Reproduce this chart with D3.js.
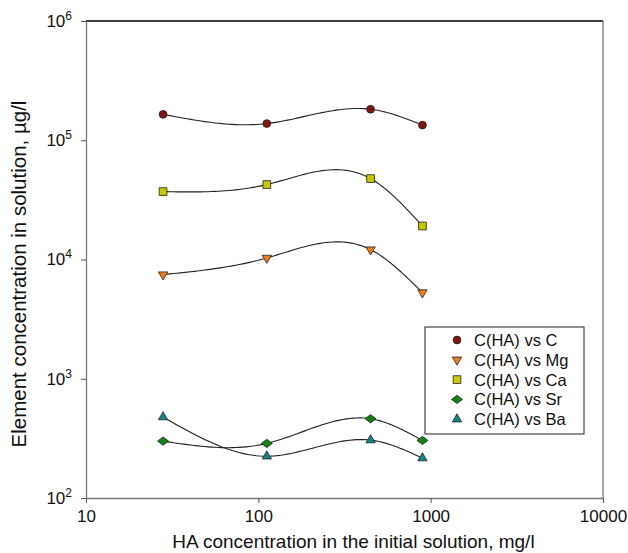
<!DOCTYPE html>
<html>
<head>
<meta charset="utf-8">
<script src="https://cdn.jsdelivr.net/npm/d3@7"></script>
<style>
  body { margin: 0; background: #fff; }
  text { font-family: 'Liberation Sans', Arial, sans-serif; }
</style>
</head>
<body>
<div id="chart"></div>
<script>
// HA concentration (x) and element concentrations (y)
const haConc = [28, 112, 448, 896]
const carbon = [165000, 138000, 182000, 134000]
const magnesium = [7470, 10300, 12100, 5280]
const calcium = [37100, 42500, 47700, 19100]
const strontium = [300, 287, 462, 304]
const barium = [477, 224, 306, 216]

const seriesNames = ['C(HA) vs C', 'C(HA) vs Mg', 'C(HA) vs Ca', 'C(HA) vs Sr', 'C(HA) vs Ba']
const xTicks = [10, 100, 1000, 10000]
const yExponents = [2, 3, 4, 5, 6]

const margin = { top: 21, left: 86, right: 25, bottom: 55 }
const width = 628 - margin.left - margin.right
const height = 553 - margin.top - margin.bottom

const svg = d3
  .select('#chart')
  .append('svg')
  .attr('width', 628)
  .attr('height', 553)
  .append('g')
  .attr('transform', 'translate(' + margin.left + ',' + margin.top + ')')

const xPositionScale = d3.scaleLog().domain([10, 10000]).range([0, width])
const yPositionScale = d3.scaleLog().domain([100, 1e6]).range([height, 0])

// natural cubic spline y(x) as a d3 curve (like the plotting program's spline)
function curveSplineX(context) {
  let xs = []
  let ys = []
  return {
    areaStart() {},
    areaEnd() {},
    lineStart() { xs = []; ys = [] },
    point(x, y) { xs.push(+x); ys.push(+y) },
    lineEnd() {
      const n = xs.length
      if (n === 0) return
      const h = d3.range(n - 1).map(i => xs[i + 1] - xs[i])
      // solve for second derivatives, natural ends
      const m = new Array(n).fill(0)
      if (n > 2) {
        const a = [], b = [], c = [], r = []
        for (let i = 1; i < n - 1; i++) {
          a.push(h[i - 1])
          b.push(2 * (h[i - 1] + h[i]))
          c.push(h[i])
          r.push(6 * ((ys[i + 1] - ys[i]) / h[i] - (ys[i] - ys[i - 1]) / h[i - 1]))
        }
        const k = b.length
        for (let i = 1; i < k; i++) {
          const w = a[i] / b[i - 1]
          b[i] -= w * c[i - 1]
          r[i] -= w * r[i - 1]
        }
        const sol = new Array(k)
        sol[k - 1] = r[k - 1] / b[k - 1]
        for (let i = k - 2; i >= 0; i--) sol[i] = (r[i] - c[i] * sol[i + 1]) / b[i]
        for (let i = 0; i < k; i++) m[i + 1] = sol[i]
      }
      context.moveTo(xs[0], ys[0])
      for (let i = 0; i < n - 1; i++) {
        const steps = 30
        for (let s = 1; s <= steps; s++) {
          const t = s / steps
          const x = xs[i] + t * h[i]
          const A = 1 - t
          const B = t
          const y = A * ys[i] + B * ys[i + 1] +
            ((A * A * A - A) * m[i] + (B * B * B - B) * m[i + 1]) * h[i] * h[i] / 6
          context.lineTo(x, y)
        }
      }
    }
  }
}

// diamond that is wider than it is tall
const wideDiamond = {
  draw(context, size) {
    const w = Math.sqrt(size) * 0.78
    const h = w * 0.75
    context.moveTo(-w, 0)
    context.lineTo(0, -h)
    context.lineTo(w, 0)
    context.lineTo(0, h)
    context.closePath()
  }
}

const series = [
  { name: seriesNames[0], values: carbon, color: '#7d1712', symbol: d3.symbolCircle, size: 48, rotate: 0 },
  { name: seriesNames[1], values: magnesium, color: '#f07d1e', symbol: d3.symbolTriangle, size: 38, rotate: 180 },
  { name: seriesNames[2], values: calcium, color: '#c8c800', symbol: d3.symbolSquare, size: 60, rotate: 0 },
  { name: seriesNames[3], values: strontium, color: '#138313', symbol: wideDiamond, size: 50, rotate: 0 },
  { name: seriesNames[4], values: barium, color: '#16838a', symbol: d3.symbolTriangle, size: 38, rotate: 0 }
]

// frame
svg.append('line')
  .attr('x1', 0).attr('x2', width).attr('y1', 0).attr('y2', 0)
  .attr('stroke', '#000').attr('stroke-width', 1.3)
svg.append('line')
  .attr('x1', width).attr('x2', width).attr('y1', 0).attr('y2', height)
  .attr('stroke', '#777').attr('stroke-width', 1.3)

const xAxis = d3.axisBottom(xPositionScale)
  .tickValues(xTicks)
  .tickFormat(d3.format('d'))
  .tickSizeInner(5)
  .tickSizeOuter(0)
  .tickPadding(7)

svg.append('g')
  .attr('class', 'axis x-axis')
  .attr('transform', 'translate(0,' + height + ')')
  .call(xAxis)

const yAxis = d3.axisLeft(yPositionScale)
  .tickValues(yExponents.map(e => Math.pow(10, e)))
  .tickSizeInner(5)
  .tickSizeOuter(0)
  .tickPadding(9)

const yAxisG = svg.append('g')
  .attr('class', 'axis y-axis')
  .call(yAxis)

// superscript tick labels 10^n
yAxisG.selectAll('.tick text')
  .text(null)
  .each(function(d) {
    const t = d3.select(this)
    t.append('tspan').text('10')
    t.append('tspan')
      .attr('dy', -7)
      .attr('font-size', 12)
      .text(Math.round(Math.log10(d)))
  })

svg.selectAll('.axis path')
  .attr('stroke', '#777')
  .attr('stroke-width', 1.3)
svg.selectAll('.axis line')
  .attr('stroke', '#555')
svg.selectAll('.axis text')
  .attr('font-family', "'Liberation Sans', Arial, sans-serif")
  .attr('font-size', 17)
  .attr('fill', '#111')

// curves through points
const line = d3.line()
  .x((d, i) => xPositionScale(haConc[i]))
  .y(d => yPositionScale(d))
  .curve(curveSplineX)

svg.selectAll('.curve')
  .data(series)
  .enter()
  .append('path')
  .attr('class', 'curve')
  .attr('d', d => line(d.values))
  .attr('fill', 'none')
  .attr('stroke', '#222')
  .attr('stroke-width', 1.1)

series.forEach(s => {
  svg.selectAll('.pt-' + s.name.replace(/\W/g, ''))
    .data(s.values)
    .enter()
    .append('path')
    .attr('d', d3.symbol().type(s.symbol).size(s.size))
    .attr('transform', (d, i) =>
      'translate(' + xPositionScale(haConc[i]) + ',' + yPositionScale(d) + ') rotate(' + s.rotate + ')')
    .attr('fill', s.color)
    .attr('stroke', '#222')
    .attr('stroke-width', 0.8)
})

// legend
const legend = svg.append('g')
  .attr('transform', 'translate(' + (425 - margin.left) + ',' + (327 - margin.top) + ')')

legend.append('rect')
  .attr('width', 159)
  .attr('height', 107)
  .attr('fill', '#fff')
  .attr('stroke', '#222')
  .attr('stroke-width', 1)

const legendRow = legend.selectAll('.legend-row')
  .data(series)
  .enter()
  .append('g')
  .attr('class', 'legend-row')
  .attr('transform', (d, i) => 'translate(0,' + (13 + i * 19.8) + ')')

legendRow.append('path')
  .attr('d', d => d3.symbol().type(d.symbol).size(d.size)())
  .attr('transform', d => 'translate(32,0) rotate(' + d.rotate + ')')
  .attr('fill', d => d.color)
  .attr('stroke', '#222')
  .attr('stroke-width', 0.8)

legendRow.append('text')
  .attr('x', 49)
  .attr('dy', '0.36em')
  .attr('font-size', 16.5)
  .attr('fill', '#111')
  .text(d => d.name)

// axis titles
svg.append('text')
  .attr('x', width / 2 + 9)
  .attr('y', height + 50)
  .attr('text-anchor', 'middle')
  .attr('font-size', 19)
  .attr('fill', '#111')
  .text('HA concentration in the initial solution, mg/l')

svg.append('text')
  .attr('transform', 'translate(' + (26 - margin.left) + ',' + (274 - margin.top) + ') rotate(-90)')
  .attr('text-anchor', 'middle')
  .attr('font-size', 20.5)
  .attr('fill', '#111')
  .text('Element concentration in solution, µg/l')
</script>
</body>
</html>
